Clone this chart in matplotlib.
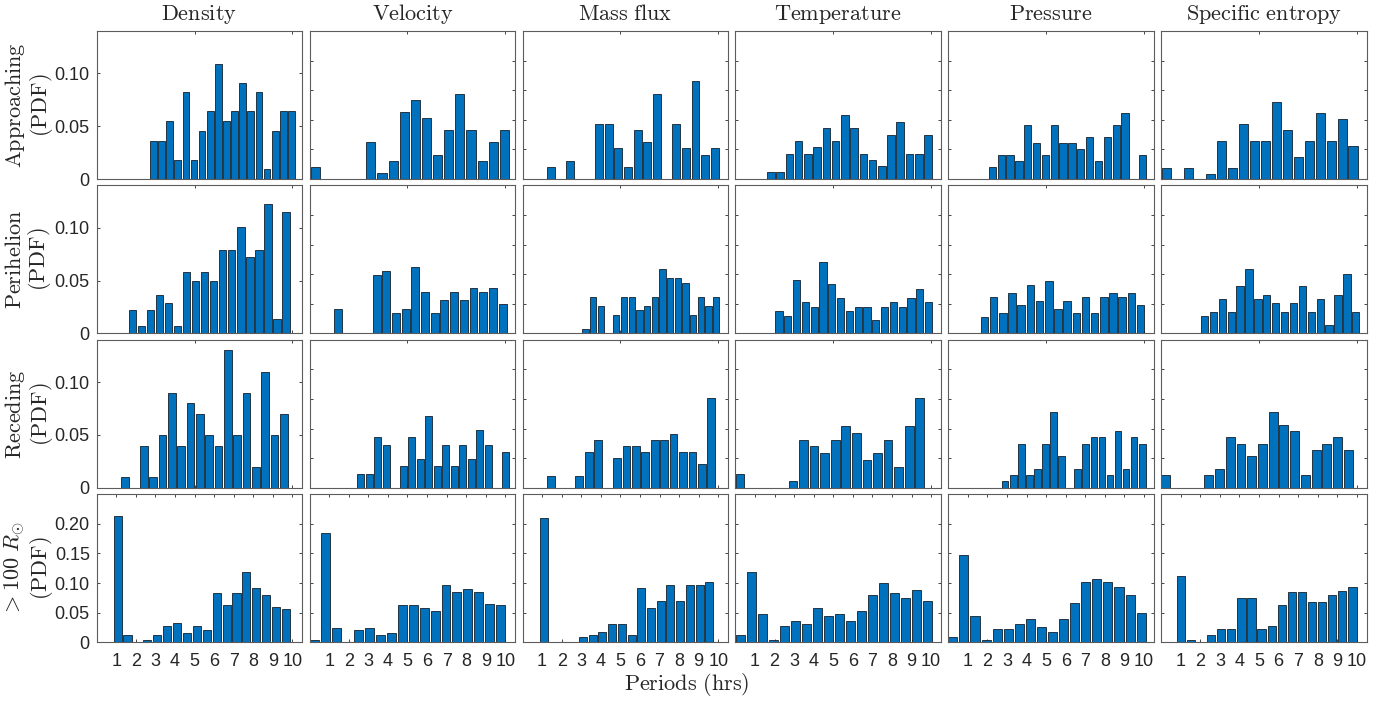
import numpy as np
import matplotlib
matplotlib.use("Agg")
import matplotlib.pyplot as plt

plt.rcParams["mathtext.fontset"] = "cm"
plt.rcParams["font.family"] = ["Liberation Sans", "DejaVu Sans"]

# ---------------------------------------------------------------- data
quantities = ["Density", "Velocity", "Mass flux", "Temperature", "Pressure", "Specific entropy"]
phases = [r"$\mathrm{Approaching}$", r"$\mathrm{Perihelion}$", r"$\mathrm{Receding}$", r"$>100\ R_{\odot}$"]
period_ticks = [1, 2, 3, 4, 5, 6, 7, 8, 9, 10]

# centre of the first period bin and bin spacing (hrs), one entry per quantity
approach_bin_start = [2.895, 0.284, 1.457, 1.815, 2.25, 0.263]
approach_bin_step = [0.415, 0.569, 0.492, 0.472, 0.452, 0.561]
perihelion_bin_start = [1.82, 1.444, 3.22, 2.224, 1.849, 2.21]
perihelion_bin_step = [0.462, 0.495, 0.393, 0.450, 0.469, 0.455]
receding_bin_start = [1.45, 2.625, 1.456, 0.242, 2.905, 0.23]
receding_bin_step = [0.477, 0.434, 0.482, 0.540, 0.412, 0.549]
far_bin_start = [1.07, 0.274, 1.098, 0.253, 0.232, 1.0]
far_bin_step = [0.506, 0.558, 0.497, 0.5625, 0.566, 0.516]

# PDF of the periods, approaching phase
approach_density = [0.036, 0.036, 0.055, 0.018, 0.082, 0.018, 0.045, 0.064, 0.109, 0.055, 0.064, 0.091, 0.064, 0.082, 0.009, 0.045, 0.064, 0.064]
approach_velocity = [0.021, 0, 0, 0, 0, 0.062, 0.010, 0.031, 0.113, 0.134, 0.103, 0.041, 0.082, 0.144, 0.082, 0.031, 0.062, 0.082]
approach_massflux = [0.021, 0, 0.031, 0, 0, 0.093, 0.093, 0.052, 0.021, 0.082, 0.062, 0.144, 0, 0.093, 0.052, 0.165, 0.041, 0.052]
approach_temperature = [0.011, 0.011, 0.043, 0.065, 0.043, 0.054, 0.086, 0.065, 0.108, 0.086, 0.043, 0.032, 0.022, 0.075, 0.097, 0.043, 0.043, 0.075]
approach_pressure = [0.020, 0.040, 0.040, 0.030, 0.091, 0.061, 0.040, 0.091, 0.061, 0.061, 0.051, 0.071, 0.030, 0.071, 0.091, 0.111, 0, 0.040]
approach_entropy = [0.019, 0, 0.019, 0, 0.009, 0.065, 0.019, 0.093, 0.065, 0.065, 0.130, 0.083, 0.037, 0.065, 0.111, 0.065, 0.102, 0.056]

# perihelion phase
perihelion_density = [0.022, 0.007, 0.022, 0.036, 0.029, 0.007, 0.058, 0.050, 0.058, 0.050, 0.079, 0.079, 0.101, 0.072, 0.079, 0.122, 0.014, 0.115]
perihelion_velocity = [0.042, 0, 0, 0, 0.099, 0.106, 0.035, 0.042, 0.113, 0.070, 0.035, 0.056, 0.070, 0.056, 0.077, 0.070, 0.077, 0.049]
perihelion_massflux = [0.008, 0.062, 0.047, 0, 0.031, 0.062, 0.062, 0.039, 0.047, 0.062, 0.109, 0.093, 0.093, 0.085, 0.031, 0.062, 0.047, 0.062]
perihelion_temperature = [0.038, 0.030, 0.090, 0.053, 0.045, 0.120, 0.083, 0.060, 0.038, 0.045, 0.045, 0.023, 0.045, 0.053, 0.045, 0.060, 0.075, 0.053]
perihelion_pressure = [0.027, 0.062, 0.034, 0.068, 0.048, 0.082, 0.055, 0.089, 0.041, 0.055, 0.034, 0.062, 0.034, 0.062, 0.068, 0.062, 0.068, 0.048]
perihelion_entropy = [0.029, 0.036, 0.058, 0.036, 0.080, 0.109, 0.058, 0.065, 0.051, 0.036, 0.051, 0.080, 0.036, 0.058, 0.014, 0.065, 0.101, 0.036]

# receding phase
receding_density = [0.01, 0, 0.04, 0.01, 0.05, 0.09, 0.04, 0.08, 0.07, 0.05, 0.04, 0.13, 0.05, 0.09, 0.02, 0.11, 0.05, 0.07]
receding_velocity = [0.024, 0.024, 0.085, 0.073, 0, 0.037, 0.085, 0.049, 0.122, 0.037, 0.073, 0.037, 0.073, 0.049, 0.098, 0.073, 0, 0.061]
receding_massflux = [0.020, 0, 0, 0.020, 0.061, 0.081, 0, 0.051, 0.071, 0.071, 0.061, 0.081, 0.081, 0.091, 0.061, 0.061, 0.040, 0.152]
receding_temperature = [0.023, 0, 0, 0, 0, 0.012, 0.081, 0.070, 0.058, 0.081, 0.105, 0.093, 0.047, 0.058, 0.081, 0.035, 0.105, 0.151]
receding_pressure = [0.011, 0.021, 0.074, 0.021, 0.032, 0.074, 0.128, 0.053, 0, 0.032, 0.074, 0.085, 0.085, 0.021, 0.096, 0.032, 0.085, 0.074]
receding_entropy = [0.021, 0, 0, 0, 0.021, 0.032, 0.085, 0.074, 0.053, 0.074, 0.128, 0.106, 0.096, 0.021, 0.064, 0.074, 0.085, 0.064]

# beyond 100 solar radii
far_density = [0.214, 0.012, 0, 0.004, 0.012, 0.028, 0.032, 0.016, 0.028, 0.020, 0.083, 0.063, 0.083, 0.119, 0.091, 0.079, 0.060, 0.056]
far_velocity = [0.003, 0.184, 0.024, 0, 0.020, 0.024, 0.012, 0.016, 0.062, 0.062, 0.058, 0.053, 0.097, 0.085, 0.090, 0.085, 0.065, 0.062]
far_massflux = [0.210, 0, 0, 0, 0.009, 0.013, 0.017, 0.031, 0.031, 0.013, 0.092, 0.057, 0.070, 0.096, 0.070, 0.096, 0.096, 0.101]
far_temperature = [0.012, 0.118, 0.048, 0.004, 0.027, 0.035, 0.031, 0.057, 0.044, 0.048, 0.035, 0.052, 0.079, 0.100, 0.083, 0.074, 0.088, 0.070]
far_pressure = [0.009, 0.147, 0.044, 0.004, 0.022, 0.022, 0.031, 0.040, 0.026, 0.018, 0.040, 0.066, 0.102, 0.106, 0.102, 0.093, 0.080, 0.049]
far_entropy = [0.111, 0.003, 0, 0.012, 0.023, 0.023, 0.075, 0.075, 0.023, 0.028, 0.063, 0.084, 0.084, 0.068, 0.068, 0.079, 0.087, 0.094]

pdf_rows = [
    [approach_density, approach_velocity, approach_massflux, approach_temperature, approach_pressure, approach_entropy],
    [perihelion_density, perihelion_velocity, perihelion_massflux, perihelion_temperature, perihelion_pressure, perihelion_entropy],
    [receding_density, receding_velocity, receding_massflux, receding_temperature, receding_pressure, receding_entropy],
    [far_density, far_velocity, far_massflux, far_temperature, far_pressure, far_entropy],
]
start_rows = [approach_bin_start, perihelion_bin_start, receding_bin_start, far_bin_start]
step_rows = [approach_bin_step, perihelion_bin_step, receding_bin_step, far_bin_step]

# ---------------------------------------------------------------- layout
W, H = 1397, 702
fig = plt.figure(figsize=(W / 100, H / 100), dpi=100)

BAR_FACE = "#0072BD"
BAR_EDGE = "#14202b"
INK = "#262626"
FRAME = "#5c5c5c"

col_left = [96.7 + i * 212.9 for i in range(6)]
panel_w = 205.5
row_bottom = [179.0 + i * 154.4 for i in range(4)]
panel_h = 148.0


def fmt(v):
    return "0" if v == 0 else f"{v:.2f}"


for r in range(4):
    for c in range(6):
        ax = fig.add_axes([col_left[c] / W, 1 - row_bottom[r] / H, panel_w / W, panel_h / H])
        vals = np.asarray(pdf_rows[r][c], dtype=float)
        step = step_rows[r][c]
        x = start_rows[r][c] + step * np.arange(len(vals))
        ax.bar(x, vals, width=0.82 * step, color=BAR_FACE, edgecolor=BAR_EDGE,
               linewidth=0.6, zorder=2)
        ax.set_xlim(0, 10.5)

        if c == 0 and r < 3:
            ax.set_ylim(0, 0.14)
            yt = [0, 0.05, 0.10]
        else:
            ax.set_ylim(0, 0.25)
            yt = [0, 0.05, 0.10, 0.15, 0.20]
        ax.set_yticks(yt)
        if c == 0:
            ax.set_yticklabels([fmt(v) for v in yt])
        else:
            ax.set_yticklabels([])

        if r == 3:
            ax.set_xticks(period_ticks)
            ax.set_xticklabels([str(t) for t in period_ticks])
        else:
            ax.set_xticks([0, 5, 10])
            ax.set_xticklabels([])

        ax.tick_params(axis="both", direction="in", length=2.5, width=0.6,
                       top=True, right=True, colors=INK, labelsize=13)
        ax.tick_params(axis="y", pad=5)
        ax.tick_params(axis="x", pad=8)
        for s in ax.spines.values():
            s.set_color(FRAME)
            s.set_linewidth(0.8)

# column titles
for c, name in enumerate(quantities):
    label = r"$\mathrm{" + name.replace(" ", r"\ ") + "}$"
    fig.text((col_left[c] + panel_w / 2) / W, 1 - 14 / H, label,
             ha="center", va="center", fontsize=16, color=INK)

# row labels
for r, name in enumerate(phases):
    yc = row_bottom[r] - panel_h / 2
    fig.text(29 / W, 1 - yc / H, name + "\n" + r"$\mathrm{(PDF)}$", rotation=90,
             ha="center", va="center", fontsize=16, color=INK,
             linespacing=1.05, multialignment="center")

fig.text(687 / W, 1 - 684 / H, r"$\mathrm{Periods\ (hrs)}$",
         ha="center", va="center", fontsize=16, color=INK)

fig.savefig("out.png", dpi=100, facecolor="white")
